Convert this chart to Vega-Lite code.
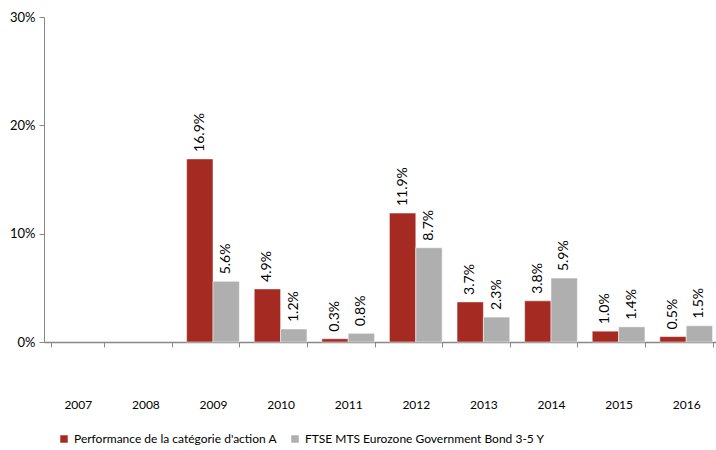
{
  "$schema": "https://vega.github.io/schema/vega-lite/v6.json",
  "width": 676,
  "height": 325,
  "autosize": "none",
  "padding": {"left": 44, "top": 17, "right": 0, "bottom": 108},
  "background": "white",
  "config": {
    "view": {"stroke": null},
    "font": "Lato",
    "axis": {"labelFont": "Lato", "labelColor": "#000000", "domainColor": "#888888", "tickColor": "#888888", "grid": false}
  },
  "data": {
    "values": [
      {"year": "2007", "series": "Performance de la catégorie d'action A", "value": null},
      {"year": "2007", "series": "FTSE MTS Eurozone Government Bond 3-5 Y", "value": null},
      {"year": "2008", "series": "Performance de la catégorie d'action A", "value": null},
      {"year": "2008", "series": "FTSE MTS Eurozone Government Bond 3-5 Y", "value": null},
      {"year": "2009", "series": "Performance de la catégorie d'action A", "value": 0.169},
      {"year": "2009", "series": "FTSE MTS Eurozone Government Bond 3-5 Y", "value": 0.056},
      {"year": "2010", "series": "Performance de la catégorie d'action A", "value": 0.049},
      {"year": "2010", "series": "FTSE MTS Eurozone Government Bond 3-5 Y", "value": 0.012},
      {"year": "2011", "series": "Performance de la catégorie d'action A", "value": 0.003},
      {"year": "2011", "series": "FTSE MTS Eurozone Government Bond 3-5 Y", "value": 0.008},
      {"year": "2012", "series": "Performance de la catégorie d'action A", "value": 0.119},
      {"year": "2012", "series": "FTSE MTS Eurozone Government Bond 3-5 Y", "value": 0.087},
      {"year": "2013", "series": "Performance de la catégorie d'action A", "value": 0.037},
      {"year": "2013", "series": "FTSE MTS Eurozone Government Bond 3-5 Y", "value": 0.023},
      {"year": "2014", "series": "Performance de la catégorie d'action A", "value": 0.038},
      {"year": "2014", "series": "FTSE MTS Eurozone Government Bond 3-5 Y", "value": 0.059},
      {"year": "2015", "series": "Performance de la catégorie d'action A", "value": 0.010},
      {"year": "2015", "series": "FTSE MTS Eurozone Government Bond 3-5 Y", "value": 0.014},
      {"year": "2016", "series": "Performance de la catégorie d'action A", "value": 0.005},
      {"year": "2016", "series": "FTSE MTS Eurozone Government Bond 3-5 Y", "value": 0.015}
    ]
  },
  "encoding": {
    "x": {
      "field": "year", "type": "nominal", "title": null,
      "scale": {"domain": ["2007", "2008", "2009", "2010", "2011", "2012", "2013", "2014", "2015", "2016"], "paddingInner": 0.22, "paddingOuter": 0.11},
      "axis": {"labelAngle": 0, "labelFontSize": 12, "labelPadding": 52, "tickBand": "extent", "tickSize": 5, "domainWidth": 1.5}
    },
    "xOffset": {"field": "series", "type": "nominal", "sort": ["Performance de la catégorie d'action A", "FTSE MTS Eurozone Government Bond 3-5 Y"]},
    "y": {
      "field": "value", "type": "quantitative", "title": null,
      "scale": {"domain": [0, 0.3], "nice": false},
      "axis": {"format": ".0%", "values": [0, 0.1, 0.2, 0.3], "labelFontSize": 13, "tickSize": 5, "labelPadding": 4}
    }
  },
  "layer": [
    {
      "mark": {"type": "bar", "stroke": "white", "strokeWidth": 0.5},
      "encoding": {
        "color": {
          "field": "series", "type": "nominal",
          "sort": ["Performance de la catégorie d'action A", "FTSE MTS Eurozone Government Bond 3-5 Y"],
          "scale": {"range": ["#A52A22", "#AFAFAF"]},
          "legend": {
            "title": null, "orient": "none", "direction": "horizontal",
            "legendX": 14, "legendY": 416,
            "symbolType": "square", "symbolSize": 56, "symbolStrokeWidth": 0,
            "labelFont": "Lato", "labelFontSize": 12, "labelColor": "#000000",
            "labelLimit": 400, "columnPadding": 12, "labelOffset": 4
          }
        }
      }
    },
    {
      "mark": {"type": "text", "angle": 270, "align": "left", "baseline": "middle", "dx": 7, "fontSize": 14, "font": "Lato", "color": "#000000"},
      "encoding": {
        "text": {"field": "value", "type": "quantitative", "format": ".1%"}
      }
    }
  ]
}
